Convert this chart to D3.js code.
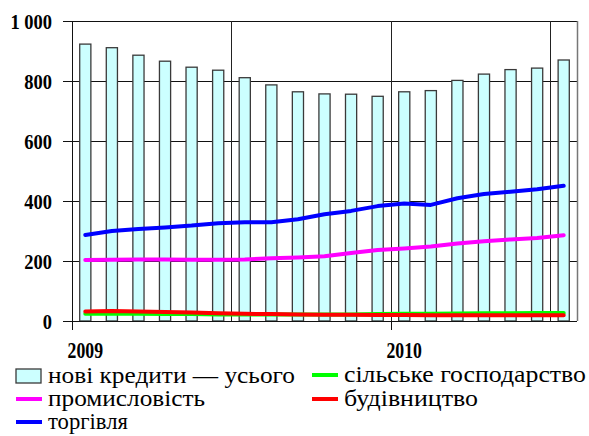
<!DOCTYPE html>
<html>
<head>
<meta charset="utf-8">
<script src="https://cdn.jsdelivr.net/npm/d3@7"></script>
<style>
  body { margin: 0; background: #fff; }
  svg { display: block; }
</style>
</head>
<body>
<div id="chart"></div>
<script>
// monthly points, Jan 2009 .. Jul 2010
const months = ['2009-01','2009-02','2009-03','2009-04','2009-05','2009-06','2009-07','2009-08','2009-09','2009-10','2009-11','2009-12',
                '2010-01','2010-02','2010-03','2010-04','2010-05','2010-06','2010-07'];
const totalNew    = [923, 911, 886, 866, 846, 836, 811, 787, 764, 757, 756, 749, 764, 768, 802, 823, 838, 843, 870];
const industry    = [203, 204, 205, 205, 204, 204, 205, 209, 212, 216, 227, 237, 242, 248, 258, 266, 272, 277, 286];
const trade       = [287, 300, 307, 312, 318, 326, 329, 329, 339, 356, 367, 383, 392, 387, 409, 423, 431, 439, 451];
const agriculture = [24, 24, 24, 23, 23, 22, 22, 22, 22, 22, 22, 23, 24, 24, 25, 26, 26, 27, 27];
const construction= [32, 33, 32, 30, 28, 26, 24, 23, 22, 21, 21, 20, 20, 19, 19, 19, 19, 19, 19];
const yTicks = [0, 200, 400, 600, 800, 1000];
const yearLabels = [{ idx: 0, text: '2009' }, { idx: 12, text: '2010' }];
const gridAfter = [6, 12, 18];

(function() {
  'use strict';

  const W = 589, H = 436,
        left = 72, right = 577, top = 21, bottom = 321,
        serif = 'Liberation Serif, Times New Roman, serif';

  const svg = d3.select('#chart').append('svg')
    .attr('width', W).attr('height', H);

  const x = d3.scaleBand()
    .domain(months)
    .range([left, right])
    .paddingInner(0.58)
    .paddingOuter(0.29);

  const y = d3.scaleLinear().domain([0, 1000]).range([bottom, top]);

  const step = x.step();
  const cx = (d, i) => x(months[i]) + x.bandwidth() / 2;

  // horizontal gridlines + left ticks
  svg.append('g').selectAll('line')
    .data(yTicks)
    .enter().append('line')
      .attr('x1', left - 9).attr('x2', right)
      .attr('y1', d => Math.round(y(d)) + 0.5).attr('y2', d => Math.round(y(d)) + 0.5)
      .attr('stroke', '#111').attr('stroke-width', 1);

  // vertical gridlines
  svg.append('g').selectAll('line')
    .data(gridAfter)
    .enter().append('line')
      .attr('x1', d => Math.round(left + d * step) + 0.5)
      .attr('x2', d => Math.round(left + d * step) + 0.5)
      .attr('y1', top).attr('y2', bottom)
      .attr('stroke', '#222').attr('stroke-width', 1);

  // right border
  svg.append('line')
    .attr('x1', right + 0.5).attr('x2', right + 0.5)
    .attr('y1', top).attr('y2', bottom)
    .attr('stroke', '#777').attr('stroke-width', 1.5);

  // bars
  svg.append('g').selectAll('rect')
    .data(totalNew)
    .enter().append('rect')
      .attr('x', (d, i) => x(months[i]))
      .attr('y', d => y(d))
      .attr('width', x.bandwidth())
      .attr('height', d => bottom - y(d))
      .attr('fill', '#ccffff')
      .attr('stroke', '#3a3a3a')
      .attr('stroke-width', 1.3);

  // left axis line and year ticks
  svg.append('line')
    .attr('x1', left + 0.5).attr('x2', left + 0.5)
    .attr('y1', top).attr('y2', bottom + 9)
    .attr('stroke', '#111');
  svg.append('line')
    .attr('x1', left - 9).attr('x2', right)
    .attr('y1', bottom + 0.5).attr('y2', bottom + 0.5)
    .attr('stroke', '#111');
  svg.append('g').selectAll('line')
    .data(yearLabels)
    .enter().append('line')
      .attr('x1', d => Math.round(left + d.idx * step) + 0.5)
      .attr('x2', d => Math.round(left + d.idx * step) + 0.5)
      .attr('y1', bottom).attr('y2', bottom + 9)
      .attr('stroke', '#111');

  // series lines
  const line = d3.line().x(cx).y(d => y(d));
  const series = [
    { data: agriculture, color: '#00ff00' },
    { data: construction, color: '#ff0000' },
    { data: industry, color: '#ff00ff' },
    { data: trade, color: '#0000ff' }
  ];
  svg.append('g').selectAll('path')
    .data(series)
    .enter().append('path')
      .attr('d', d => line(d.data))
      .attr('fill', 'none')
      .attr('stroke', d => d.color)
      .attr('stroke-width', 4)
      .attr('stroke-linejoin', 'round')
      .attr('stroke-linecap', 'round');

  // y labels (narrow bold figures)
  svg.append('g').selectAll('text')
    .data(yTicks)
    .enter().append('text')
      .style('font-family', serif)
      .style('font-weight', 'bold')
      .attr('text-anchor', 'end')
      .attr('font-size', 21)
      .attr('transform', d => `translate(52,${y(d) + 7.5}) scale(0.88,1)`)
      .text(d => d === 1000 ? '1 000' : d);

  // year labels
  svg.append('g').selectAll('text')
    .data(yearLabels)
    .enter().append('text')
      .style('font-family', serif)
      .style('font-weight', 'bold')
      .attr('text-anchor', 'middle')
      .attr('font-size', 24)
      .attr('transform', d => `translate(${cx(null, d.idx)},358) scale(0.74,1)`)
      .text(d => d.text);

  // legend
  const legend = [
    { label: 'нові кредити — усього', type: 'bar', color: '#ccffff', x: 16, y: 376, w: 247 },
    { label: 'промисловість', type: 'line', color: '#ff00ff', x: 16, y: 399, w: 157 },
    { label: 'торгівля', type: 'line', color: '#0000ff', x: 16, y: 422, w: 80 },
    { label: 'сільське господарство', type: 'line', color: '#00ff00', x: 312, y: 375, w: 242 },
    { label: 'будівництво', type: 'line', color: '#ff0000', x: 312, y: 399, w: 134 }
  ];
  const lg = svg.append('g').selectAll('g')
    .data(legend)
    .enter().append('g')
      .attr('transform', d => `translate(${d.x},${d.y})`);

  lg.filter(d => d.type === 'bar').append('rect')
    .attr('x', 0).attr('y', -7).attr('width', 25).attr('height', 14)
    .attr('fill', d => d.color).attr('stroke', '#3a3a3a').attr('stroke-width', 1.3);
  lg.filter(d => d.type === 'line').append('line')
    .attr('x1', 0).attr('x2', 26).attr('y1', 0).attr('y2', 0)
    .attr('stroke', d => d.color).attr('stroke-width', 4);

  lg.append('text')
    .style('font-family', serif)
    .attr('x', 32).attr('y', 7)
    .attr('font-size', 23)
    .attr('textLength', d => d.w)
    .attr('lengthAdjust', 'spacingAndGlyphs')
    .text(d => d.label);
})();
</script>
</body>
</html>
